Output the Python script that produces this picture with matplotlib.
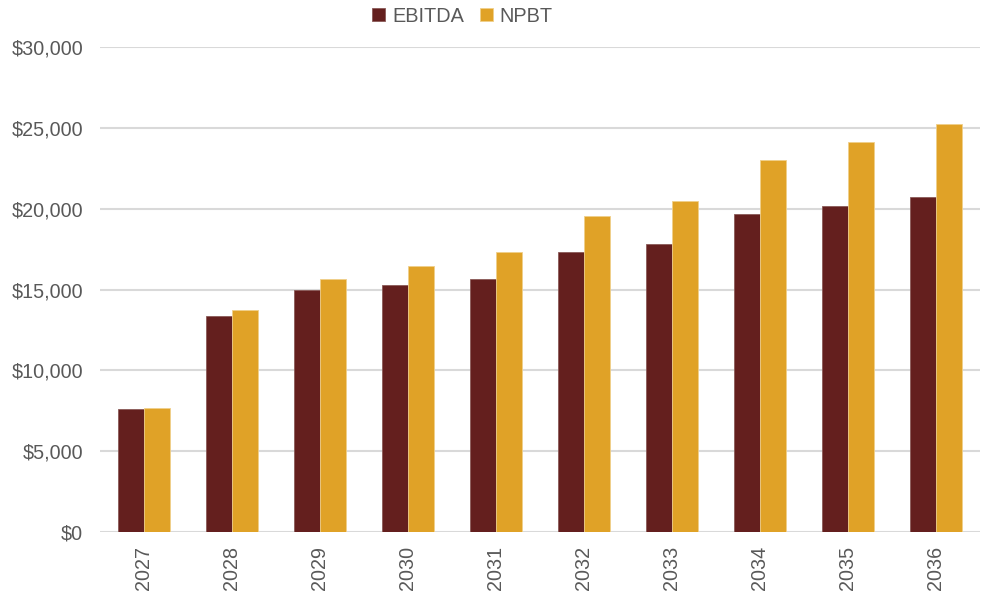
import numpy as np
from matplotlib import pyplot as plt
from matplotlib.ticker import FuncFormatter

years = ['2027', '2028', '2029', '2030', '2031', '2032', '2033', '2034', '2035', '2036']
ebitda = [7590, 13390, 14940, 15270, 15620, 17350, 17820, 19680, 20150, 20720]
npbt = [7690, 13760, 15620, 16440, 17350, 19550, 20480, 23040, 24110, 25260]

plt.rcParams['font.family'] = ['Liberation Sans', 'DejaVu Sans']

fig = plt.figure(figsize=(9.81, 5.95), dpi=100)
ax = fig.add_axes([100 / 981, 1 - 532 / 595, 880 / 981, 485 / 595])

x = np.arange(len(years))
w = 0.29
ax.bar(x - w / 2, ebitda, w, color='#641F1E', edgecolor='#8a5a58', linewidth=0.6,
       label='EBITDA', zorder=3)
ax.bar(x + w / 2, npbt, w, color='#E0A227', edgecolor='#f0cf8a', linewidth=0.6,
       label='NPBT', zorder=3)

ax.set_xlim(-0.5, len(years) - 0.5)
ax.set_ylim(0, 30000)
ax.set_yticks(range(0, 30001, 5000))
ax.yaxis.set_major_formatter(FuncFormatter(lambda v, p: '${:,.0f}'.format(v)))
ax.set_xticks(x)
ax.set_xticklabels(years, rotation=90)

ax.grid(axis='y', color='#d9d9d9', linewidth=1.5, zorder=0)
for s in ['top', 'right', 'left', 'bottom']:
    ax.spines[s].set_visible(False)
ax.tick_params(axis='both', length=0, labelsize=14.2, colors='#595959')
ax.tick_params(axis='y', pad=12)
ax.tick_params(axis='x', pad=10)

ax.legend(loc='upper center', bbox_to_anchor=(0.412, 1.12), ncol=2, frameon=False,
          fontsize=14.3, labelcolor='#595959', handlelength=0.65, handleheight=0.65,
          handletextpad=0.35, columnspacing=0.8)

plt.savefig('out.png', dpi=100)
